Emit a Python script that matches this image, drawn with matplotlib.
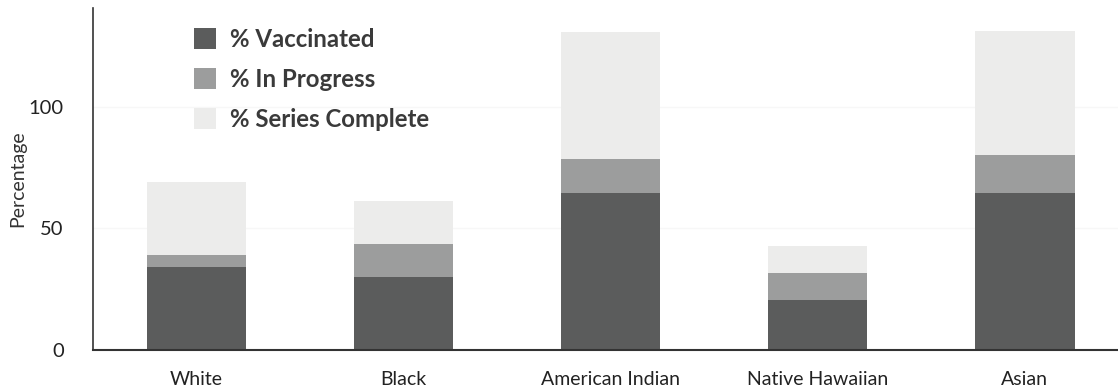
import matplotlib
matplotlib.use("Agg")
import matplotlib.pyplot as plt
import numpy as np
from matplotlib.patches import Patch

categories = ["White", "Black", "American Indian", "Native Hawaiian", "Asian"]
vaccinated = [34.2, 30.0, 64.6, 20.6, 64.6]
in_progress = [4.9, 13.6, 14.0, 11.1, 15.6]
series_complete = [30.0, 17.7, 52.2, 11.1, 51.1]
series_labels = ["% Vaccinated", "% In Progress", "% Series Complete"]
colors = ["#5b5c5c", "#9c9d9d", "#ececeb"]
yticks = [0, 50, 100]

plt.rcParams['font.family'] = ['Lato', 'DejaVu Sans']

fig = plt.figure(figsize=(11.18, 3.88), dpi=100)
ax = fig.add_axes([93/1118, 38/388, 1 - 93/1118, (350-8)/388])

x = np.arange(len(categories))
w = 0.48
v = np.array(vaccinated); p = np.array(in_progress); s = np.array(series_complete)
ax.bar(x, v, width=w, color=colors[0], zorder=2)
ax.bar(x, p, width=w, bottom=v, color=colors[1], zorder=2)
ax.bar(x, s, width=w, bottom=v + p, color=colors[2], zorder=2)

ax.set_xlim(-0.5, 4.45)
ax.set_ylim(0, 140.7)
ax.set_yticks(yticks)
ax.set_yticklabels([str(t) for t in yticks], fontsize=14.5, color="#222222")
ax.set_xticks(x)
ax.set_xticklabels(categories, fontsize=14, color="#222222")
ax.tick_params(axis='both', length=0)
ax.tick_params(axis='y', pad=21)
ax.tick_params(axis='x', pad=15)
for t in yticks[1:]:
    ax.axhline(t, color="#f7f7f7", lw=1, zorder=1)

ax.set_ylabel("Percentage", fontsize=14, color="#333333", labelpad=2)

for sp in ["top", "right"]:
    ax.spines[sp].set_visible(False)
ax.spines["left"].set_color("#333333")
ax.spines["bottom"].set_color("#333333")
ax.spines["left"].set_linewidth(1.2)
ax.spines["bottom"].set_linewidth(1.5)

handles = [Patch(facecolor=c, edgecolor='none') for c in colors]
leg = ax.legend(handles, series_labels, loc='upper left',
                bbox_to_anchor=(0.077, 1.005), frameon=False,
                prop={'family': 'Lato', 'weight': 'bold', 'size': 17.3},
                handlelength=0.95, handleheight=1.0, handletextpad=0.55,
                labelspacing=0.7)
for t in leg.get_texts():
    t.set_color("#3a3a3a")

fig.savefig("out.png", dpi=100)
